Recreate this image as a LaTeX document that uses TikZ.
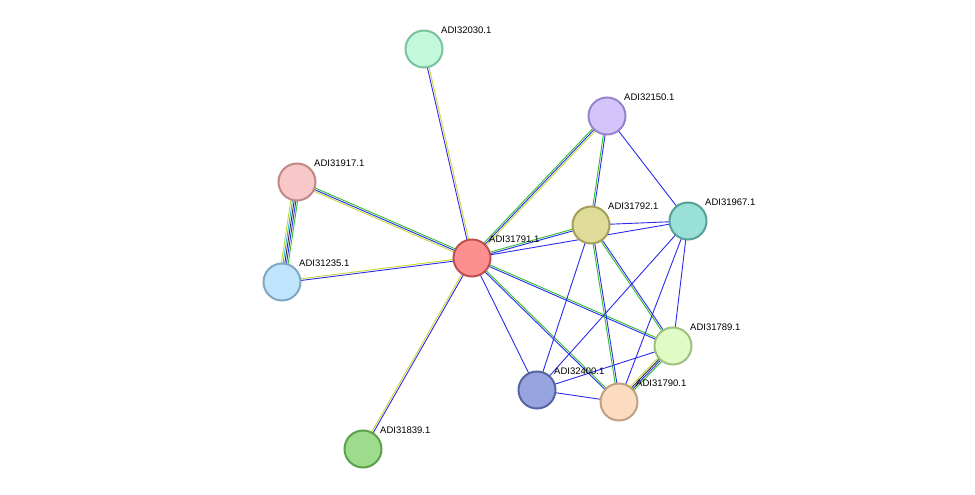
\documentclass[tikz,border=0pt]{standalone}
\usepackage{fontspec}
\setmainfont{Liberation Sans}
\usetikzlibrary{calc,backgrounds}
\begin{document}
\begin{tikzpicture}[x=1pt,y=-1pt,
  prot/.style={circle,minimum size=37pt,inner sep=0pt,line width=2pt},
  lab/.style={font=\fontsize{9.5}{11}\selectfont,anchor=south west,inner sep=0pt}]
\useasboundingbox (0,0) rectangle (975,495);
\definecolor{eB}{HTML}{2B2BF0}
\definecolor{eG}{HTML}{2EC02E}
\definecolor{eY}{HTML}{C8D83A}
\definecolor{eK}{HTML}{333333}
\definecolor{eC}{HTML}{30B8E0}
\newcommand{\pnode}[5]{\definecolor{f#1}{HTML}{#4}\definecolor{d#1}{HTML}{#5}%
  \node[prot,fill=f#1,draw=d#1] (n#1) at (#2,#3) {};
  \node[lab] (l#1) at ($(n#1)+(17,-15)$) {ADI#1.1};}
\pnode{32030}{424}{49}{C4F8DC}{78C29C}
\pnode{32150}{607}{116}{D4C4FC}{9884C8}
\pnode{31917}{297}{182}{F8C8C8}{C08888}
\pnode{31792}{591}{225}{DEDC98}{A4A058}
\pnode{31967}{688}{221}{98E0D8}{58A098}
\pnode{31791}{472}{258}{FC9090}{C05050}
\pnode{31235}{282}{282}{C0E4FC}{80A8C4}
\pnode{31789}{673}{346}{E0FCC4}{A0C080}
\pnode{32400}{537}{390}{98A4E0}{5864A0}
\pnode{31790}{619}{402}{FCDCC0}{C0A080}
\pnode{31839}{363}{449}{9CDC8C}{5CA04C}
\newcommand{\edg}[3]{%
  \foreach \c [count=\i] in {#3} {\xdef\nE{\i}}%
  \foreach \c [count=\i] in {#3} {%
    \pgfmathsetmacro{\o}{(\i-(\nE+1)/2)*1.7}%
    \draw[\c,line width=0.9pt] ($(n#1)!\o pt!90:(n#2)$) -- ($(n#2)!\o pt!-90:(n#1)$);}}
\begin{scope}[on background layer]
\fill[white] (0,0) rectangle (975,495);
\edg{32030}{31791}{eB,eY}
\edg{32150}{31791}{eG,eB,eY}
\edg{32150}{31792}{eG,eB}
\edg{32150}{31967}{eB}
\edg{31917}{31791}{eY,eB,eG}
\edg{31917}{31235}{eY,eC,eK,eB,eG}
\edg{31235}{31791}{eB,eY}
\edg{31839}{31791}{eB,eY}
\edg{31792}{31791}{eG,eB}
\edg{31967}{31791}{eB}
\edg{31792}{31967}{eB}
\edg{31791}{31789}{eB,eG}
\edg{31791}{32400}{eB}
\edg{31791}{31790}{eB,eG}
\edg{31792}{32400}{eB}
\edg{31792}{31790}{eG,eB}
\edg{31792}{31789}{eG,eB}
\edg{31967}{32400}{eB}
\edg{31967}{31790}{eB}
\edg{31967}{31789}{eB}
\edg{31789}{32400}{eB}
\edg{31789}{31790}{eY,eK,eB,eG}
\edg{32400}{31790}{eB}
\end{scope}
\end{tikzpicture}
\end{document}
